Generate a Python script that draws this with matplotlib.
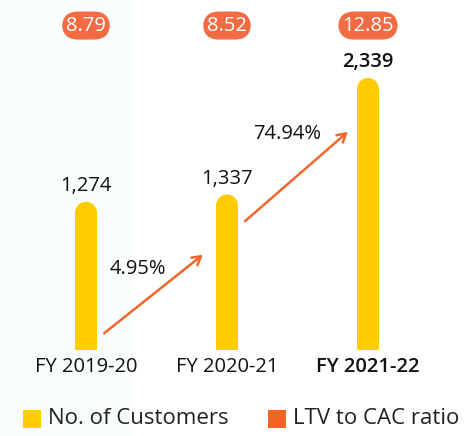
import matplotlib.pyplot as plt
from matplotlib.patches import Ellipse, Rectangle

# data
years = ['FY 2019-20', 'FY 2020-21', 'FY 2021-22']
customers = [1274, 1337, 2339]
ltv_cac = [8.79, 8.52, 12.85]
growth = ['4.95%', '74.94%']

YELLOW = '#FFCC00'
ORANGE = '#F26B43'
ARROW = '#F2662E'

plt.rcParams['font.family'] = ['Open Sans', 'DejaVu Sans']

fig = plt.figure(figsize=(4.74, 4.36), dpi=100)
ax = fig.add_axes([0, 0, 1, 1])
ax.set_xlim(-0.61, 2.752)
ax.set_ylim(-739.5, 3009.7)
ax.axis('off')

# faint tint on the left side of the background
ax.add_patch(Rectangle((-0.61, -739.5), 0.95, 3749, color='#FAFDFE', zorder=0, lw=0))

bw = 0.156          # bar width in data units (~22px)
r = 11 * 8.6        # cap radius in y data units
x = list(range(len(years)))
for i, v in enumerate(customers):
    ax.bar(x[i], v - r, width=bw, color=YELLOW, zorder=2)
    ax.add_patch(Ellipse((x[i], v - r), bw, 2 * r, color=YELLOW, zorder=2, lw=0))
    bold = 'semibold' if i == 2 else 'normal'
    ax.text(x[i], v + 50, f'{v:,}', ha='center', va='bottom', fontsize=14.5,
            color='#111111', fontweight=bold)
    ax.text(x[i], -145, years[i], ha='center', va='center', fontsize=14.5,
            color='#111111', fontweight=bold)
    ax.text(x[i], 2790, f'{ltv_cac[i]:.2f}', ha='center', va='center', fontsize=14.5,
            color='white',
            bbox=dict(boxstyle='round,pad=0.2,rounding_size=0.8', fc=ORANGE, ec='none'))

# growth arrows
arrows = [((0.113, 129), (0.844, 834)), ((1.113, 1092), (1.872, 1892))]
label_pos = [(0.37, 700), (1.43, 1860)]
for (p0, p1), lp, g in zip(arrows, label_pos, growth):
    ax.annotate('', xy=p1, xytext=p0,
                arrowprops=dict(arrowstyle='->,head_length=0.6,head_width=0.35',
                                color=ARROW, lw=1.8), zorder=3)
    ax.text(lp[0], lp[1], g, ha='center', va='center', fontsize=14.5, color='#111111')

# legend
ax.add_patch(Rectangle((-0.447, -675), 0.128, 160, color=YELLOW, lw=0))
ax.text(-0.27, -590, 'No. of Customers', ha='left', va='center', fontsize=16, color='#222222')
ax.add_patch(Rectangle((1.29, -675), 0.128, 160, color='#F26522', lw=0))
ax.text(1.465, -590, 'LTV to CAC ratio', ha='left', va='center', fontsize=16, color='#222222')

fig.savefig('out.png', dpi=100)
